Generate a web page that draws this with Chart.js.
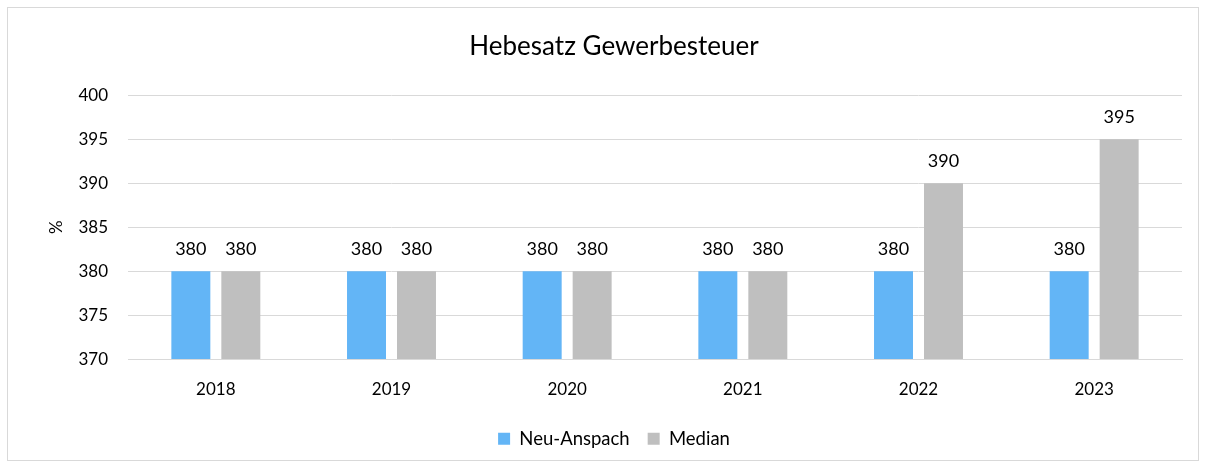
<!DOCTYPE html>
<html>
<head>
<meta charset="utf-8">
<script src="https://cdn.jsdelivr.net/npm/chart.js@4"></script>
<style>
  body { margin: 0; background: #fff; }
  #box { position: absolute; left: 7px; top: 7px; width: 1190px; height: 452px; border: 1px solid #d9d9d9; }
  canvas { display: block; }
</style>
</head>
<body>
<div id="box"><canvas id="chart" width="1190" height="452"></canvas></div>
<script>
// Werte aus dem Diagramm
const years = ['2018', '2019', '2020', '2021', '2022', '2023'];
const neuAnspach = [380, 380, 380, 380, 380, 380];
const median = [380, 380, 380, 380, 390, 395];

const fontFam = "Lato, 'Noto Sans', sans-serif";

// Wertbeschriftungen über den Balken
const valueLabels = {
    id: 'valueLabels',
    afterDatasetsDraw(chart) {
        const ctx = chart.ctx;
        ctx.save();
        ctx.font = '18px ' + fontFam;
        ctx.fillStyle = '#000';
        ctx.textAlign = 'center';
        ctx.textBaseline = 'bottom';
        chart.data.datasets.forEach((ds, i) => {
            chart.getDatasetMeta(i).data.forEach((bar, j) => {
                ctx.fillText(ds.data[j], bar.x, bar.y - 13);
            });
        });
        ctx.restore();
    }
};

new Chart(document.getElementById('chart'), {
    type: 'bar',
    data: {
        labels: years,
        datasets: [
            { label: 'Neu-Anspach', data: neuAnspach, backgroundColor: '#63b5f6' },
            { label: 'Median', data: median, backgroundColor: '#bfbfbf' }
        ]
    },
    options: {
        responsive: false,
        animation: false,
        categoryPercentage: 0.569,
        barPercentage: 0.78,
        layout: { padding: { left: 38, right: 16, top: 0, bottom: 2 } },
        scales: {
            y: {
                min: 370, max: 400,
                ticks: { stepSize: 5, color: '#000', font: { size: 17, family: fontFam }, padding: 20 },
                grid: { color: '#d9d9d9', drawTicks: false },
                border: { display: false },
                title: { display: true, text: '%', color: '#000', font: { size: 17, family: fontFam }, padding: { top: 0, bottom: 0 } },
                afterFit(scale) { scale.width = 82; }
            },
            x: {
                ticks: { color: '#000', font: { size: 17, family: fontFam }, padding: 12 },
                grid: { display: false },
                border: { color: '#d9d9d9' }
            }
        },
        plugins: {
            title: {
                display: true, text: 'Hebesatz Gewerbesteuer', color: '#000',
                font: { size: 26, weight: 'normal', family: fontFam },
                padding: { top: 23, bottom: 33 }
            },
            legend: {
                position: 'bottom',
                labels: { boxWidth: 12, boxHeight: 12, color: '#000', font: { size: 18.5, family: fontFam }, padding: 18 }
            },
            tooltip: { enabled: false }
        }
    },
    plugins: [valueLabels]
});
</script>
</body>
</html>
